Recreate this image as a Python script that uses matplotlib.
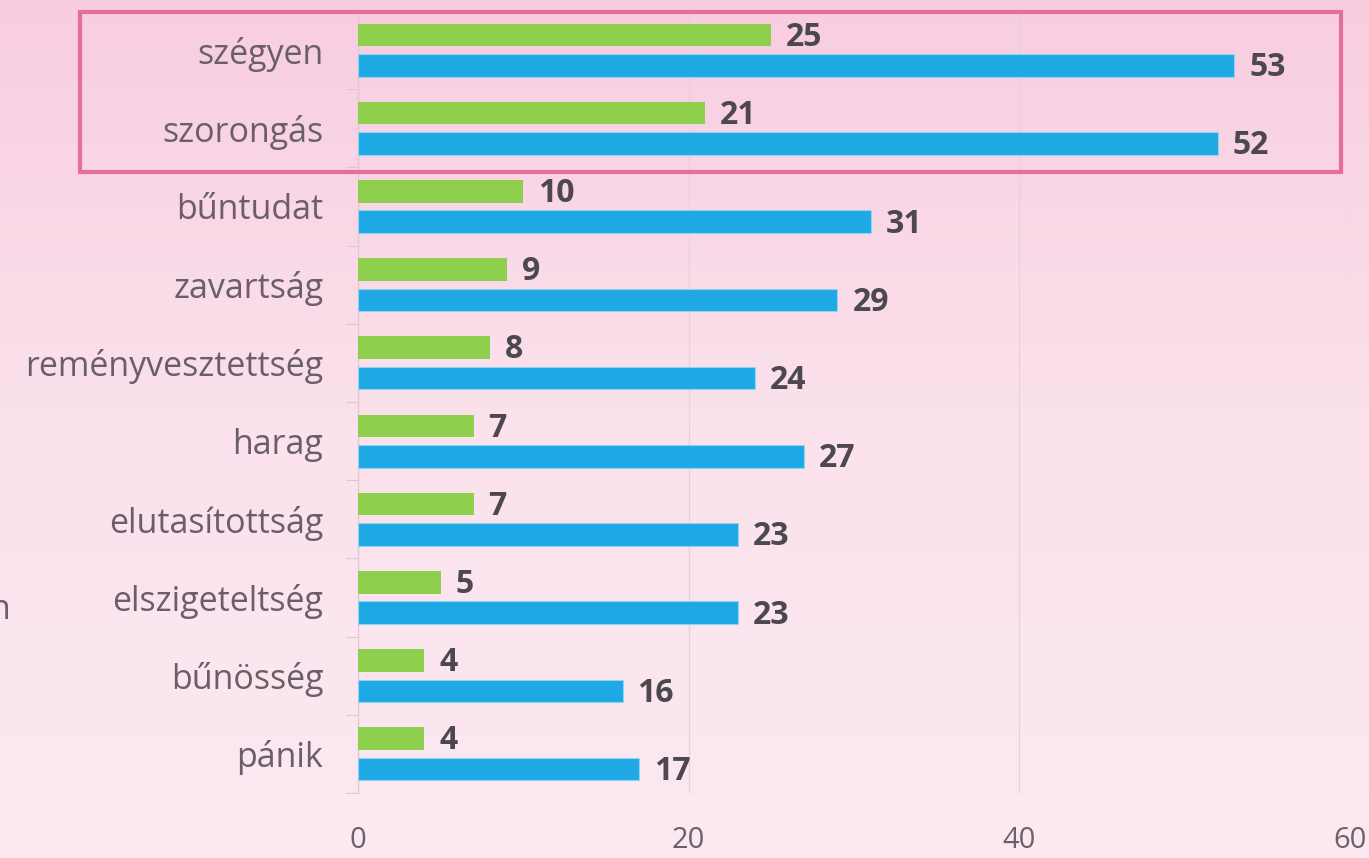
import matplotlib.pyplot as plt
import numpy as np
from matplotlib.patches import Rectangle
from matplotlib.colors import LinearSegmentedColormap

plt.rcParams['font.family'] = ['Open Sans', 'DejaVu Sans']

categories = ['szégyen', 'szorongás', 'bűntudat', 'zavartság', 'reményvesztettség',
              'harag', 'elutasítottság', 'elszigeteltség', 'bűnösség', 'pánik']
green_vals = [25, 21, 10, 9, 8, 7, 7, 5, 4, 4]
blue_vals = [53, 52, 31, 29, 24, 27, 23, 23, 16, 17]
x_ticks = [0, 20, 40, 60]

W, H = 1369, 858
fig = plt.figure(figsize=(W / 100, H / 100), dpi=100)

# pink gradient background
bg = fig.add_axes([0, 0, 1, 1], zorder=-10)
cmap = LinearSegmentedColormap.from_list('bg', ['#f8cde0', '#fbe2ec', '#fce9f1'])
bg.imshow(np.linspace(0, 1, 256).reshape(-1, 1), aspect='auto', cmap=cmap,
          extent=[0, 1, 0, 1])
bg.axis('off')

ax = fig.add_axes([358 / W, 1 - 793 / H, (1350 - 358) / W, (793 - 11) / H])
ax.patch.set_alpha(0)

y = np.arange(len(categories))
h = 0.29
off = 0.195
ax.barh(y - off, green_vals, height=h, color='#8ed04d', zorder=3)
ax.barh(y + off, blue_vals, height=h, color='#1ea8e4', edgecolor='#8fd3f5',
        linewidth=0.8, zorder=3)

lbl_color = '#4c484e'
for i in range(len(categories)):
    ax.text(green_vals[i] + 0.9, y[i] - off + 0.03, str(green_vals[i]), va='center',
            ha='left', fontsize=23, fontweight='bold', color=lbl_color)
    ax.text(blue_vals[i] + 0.9, y[i] + off + 0.03, str(blue_vals[i]), va='center',
            ha='left', fontsize=23, fontweight='bold', color=lbl_color)

ax.set_xlim(0, 60)
ax.set_ylim(len(categories) - 0.5, -0.5)

ax.set_yticks(y)
ax.set_yticklabels(categories, fontsize=24.5, color='#6a5f68')
ax.tick_params(axis='y', which='major', length=0, pad=25)
ax.set_yticks(np.arange(-0.5, len(categories), 1), minor=True)
ax.tick_params(axis='y', which='minor', length=9, width=0.8, color='#ddc8d0')

ax.set_xticks(x_ticks)
ax.set_xticklabels([str(t) for t in x_ticks], fontsize=21, color='#6a6268')
ax.tick_params(axis='x', length=0, pad=24)
ax.grid(axis='x', color='#e3d3da', linewidth=0.9, zorder=0)

for s in ['top', 'right', 'bottom']:
    ax.spines[s].set_visible(False)
ax.spines['left'].set_color('#dccbd2')
ax.spines['left'].set_linewidth(0.9)

# highlight box around the top two rows
fig.patches.append(Rectangle((80 / W, 1 - 172 / H), (1341 - 80) / W, (172 - 12) / H,
                             transform=fig.transFigure, fill=False,
                             edgecolor='#e56e9f', linewidth=3, zorder=5))

# cut-off text at the left edge
fig.text(10 / W, 1 - 610 / H, 'n', ha='right', va='center', fontsize=24.5,
         color='#6a5f68')

fig.savefig('out.png', dpi=100)
